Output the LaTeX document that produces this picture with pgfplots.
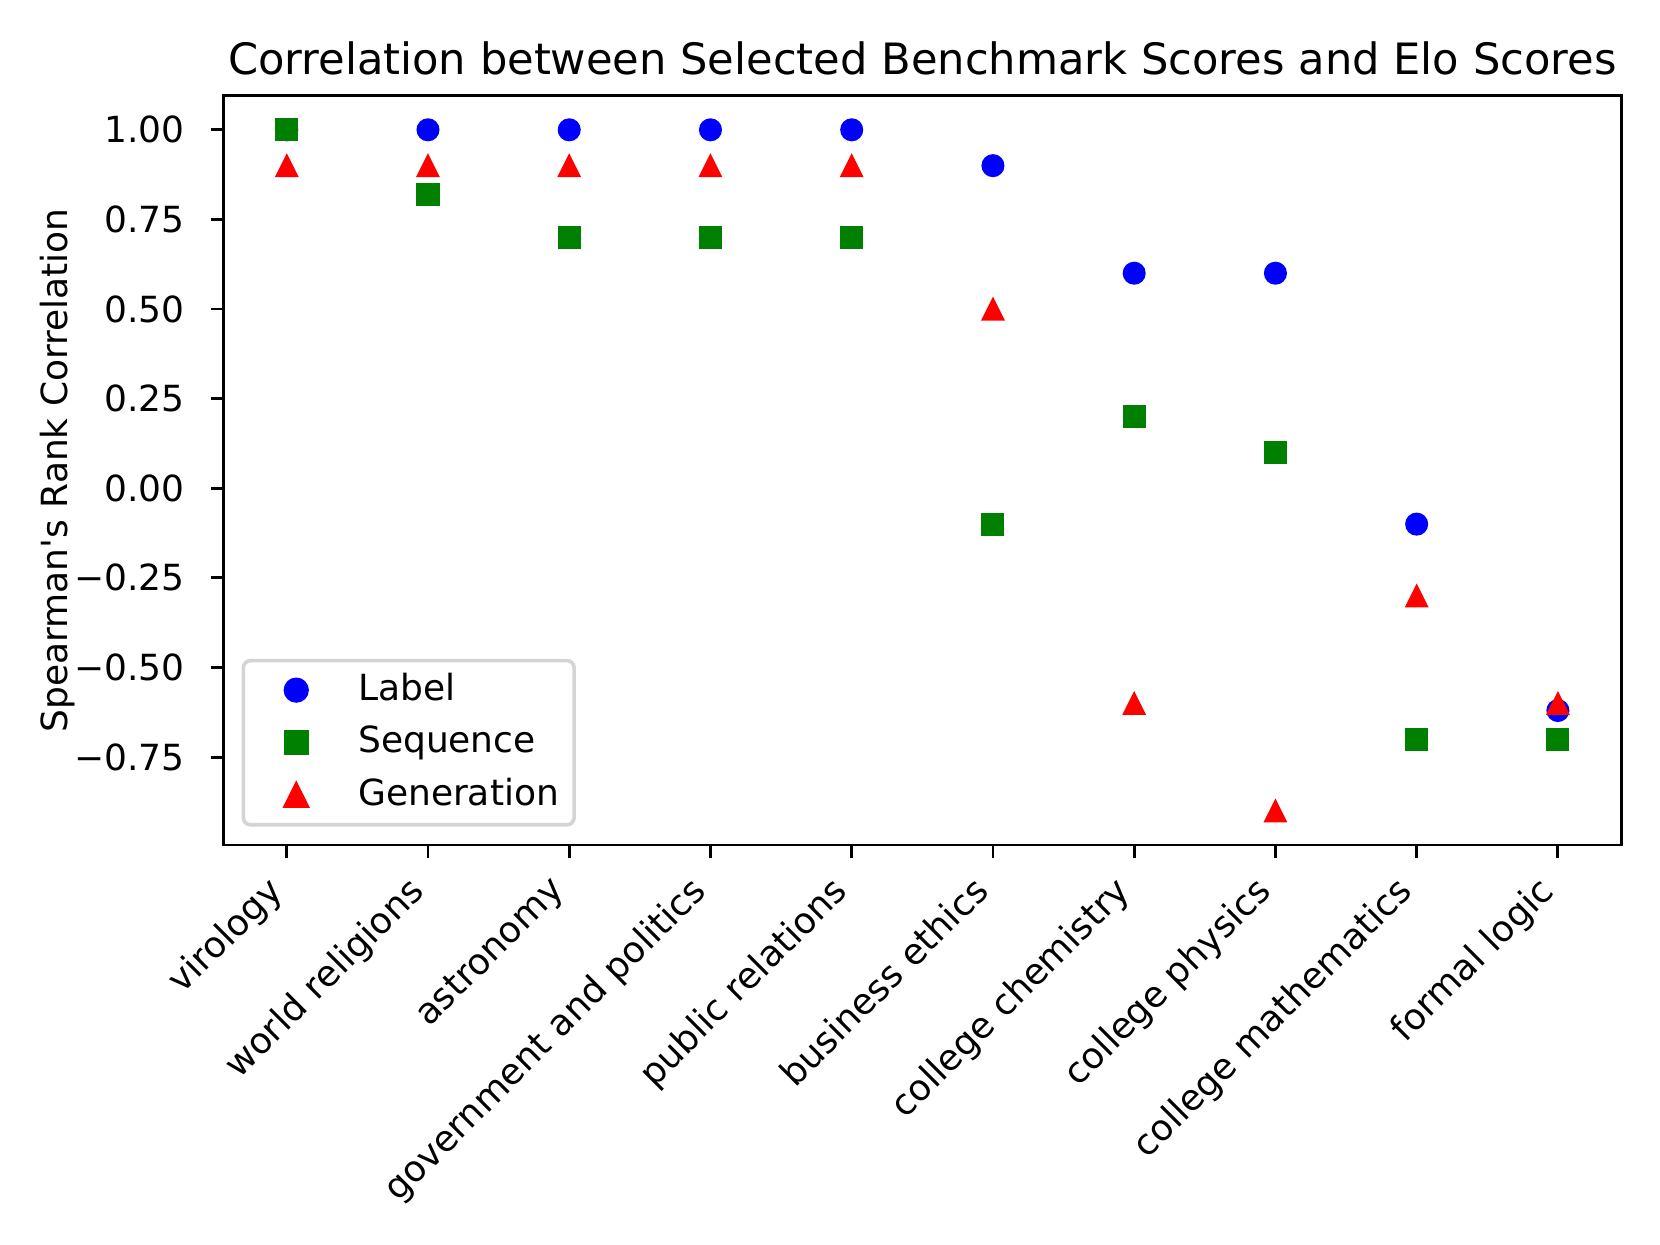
\documentclass[border=0pt]{standalone}
\usepackage{fontspec}
\setmainfont{DejaVu Sans}
\usepackage{pgfplots}
\pgfplotsset{compat=1.18}
\definecolor{mplblue}{RGB}{0,0,255}
\definecolor{mplgreen}{RGB}{0,128,0}
\definecolor{mplred}{RGB}{255,0,0}

% matplotlib-like '^' marker: apex on top, equal width and height
\pgfdeclareplotmark{mtri}{%
  \pgfpathmoveto{\pgfqpoint{0pt}{\pgfplotmarksize}}%
  \pgfpathlineto{\pgfqpoint{-\pgfplotmarksize}{-\pgfplotmarksize}}%
  \pgfpathlineto{\pgfqpoint{\pgfplotmarksize}{-\pgfplotmarksize}}%
  \pgfpathclose\pgfusepathqfillstroke}

\begin{document}
\begin{tikzpicture}
\begin{axis}[
    at={(0,0)}, anchor=south west,
    width=388.4pt, height=208.1pt, scale only axis,
    xmin=-0.45, xmax=9.45,
    ymin=-0.995, ymax=1.095,
    axis line style={line width=0.8pt},
    tick style={line width=0.8pt, black},
    major tick length=3.5pt,
    tick align=outside,
    tick pos=left,
    xtick={0,...,9},
    xticklabels={virology, world religions, astronomy, government and politics,
      public relations, business ethics, college chemistry, college physics,
      college mathematics, formal logic},
    xticklabel style={xshift=-6.1pt, yshift=-4.3pt, rotate=45, anchor=north east, inner sep=0pt},
    ytick={-0.75,-0.5,-0.25,0,0.25,0.5,0.75,1},
    yticklabels={−0.75,−0.50,−0.25,0.00,0.25,0.50,0.75,1.00},
    yticklabel style={anchor=east, inner sep=0pt, xshift=-7pt},
    ticklabel style={font=\fontsize{10}{12}\selectfont},
    title={Correlation between Selected Benchmark Scores and Elo Scores},
    every axis title shift=0pt,
    title style={at={(axis description cs:0.5,1)}, anchor=base, yshift=6pt,
      inner sep=0pt, font=\fontsize{12}{14.4}\selectfont},
    ylabel={Spearman\textquotesingle s Rank Correlation},
    ylabel style={at={(axis description cs:-0.1184,0.5)}, anchor=center,
      font=\fontsize{10}{12}\selectfont},
    legend style={at={(axis description cs:0.0131,0.0245)}, anchor=south west,
      draw=black!17, line width=1pt, rounded corners=2pt,
      inner xsep=3.2pt, inner ysep=2.4pt, row sep=3pt, column sep=12.7pt,
      font=\fontsize{10}{12}\selectfont,
      nodes={inner sep=1pt, text height=7.6pt, text depth=2pt}},
    legend cell align=left,
    legend image code/.code={%
      \path (-11pt,0pt) (3pt,0pt);
      \draw[#1] plot coordinates {(0pt,0pt)};},
    every axis plot/.append style={only marks, mark size=3pt,
      mark options={line width=1pt, line join=round}},
]
\addplot[mplblue, mark=*, mark options={fill=mplblue, draw=mplblue}] coordinates {
  (0,1.00) (1,1.00) (2,1.00) (3,1.00) (4,1.00)
  (5,0.90) (6,0.60) (7,0.60) (8,-0.10) (9,-0.62)
};
\addlegendentry{Label}
\addplot[mplgreen, mark=square*, mark options={fill=mplgreen, draw=mplgreen}] coordinates {
  (0,1.00) (1,0.82) (2,0.70) (3,0.70) (4,0.70)
  (5,-0.10) (6,0.20) (7,0.10) (8,-0.70) (9,-0.70)
};
\addlegendentry{Sequence}
\addplot[mplred, mark=mtri, mark options={fill=mplred, draw=mplred}] coordinates {
  (0,0.90) (1,0.90) (2,0.90) (3,0.90) (4,0.90)
  (5,0.50) (6,-0.60) (7,-0.90) (8,-0.30) (9,-0.60)
};
\addlegendentry{Generation}
\end{axis}
\pgfresetboundingbox
\path (-62pt,-111.1pt) rectangle (399.1pt,234.7pt);
\end{tikzpicture}
\end{document}
